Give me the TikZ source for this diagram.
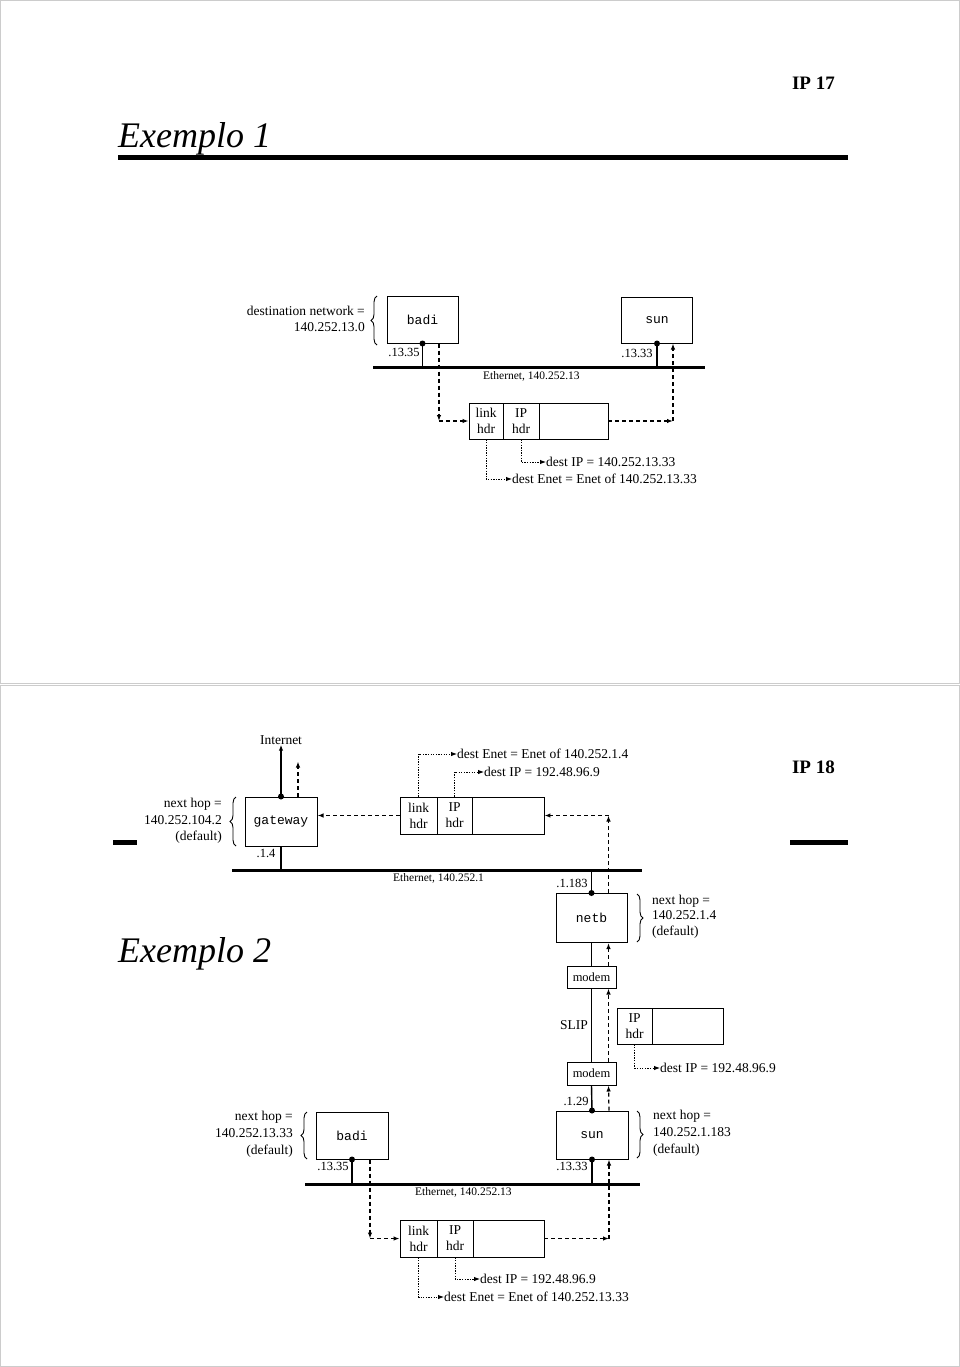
\documentclass[tikz,border=0pt]{standalone}
\usepackage{fontspec}
\setmainfont{Liberation Serif}
\setmonofont{Liberation Mono}
\usetikzlibrary{arrows.meta,decorations.pathreplacing,calc}
\tikzset{
  host/.style={draw, line width=1pt, inner sep=0pt, minimum width=71pt, minimum height=47pt, font=\ttfamily\fontsize{13}{15}\selectfont},
  modembox/.style={draw, line width=1pt, inner sep=0pt, minimum width=49pt, minimum height=22pt, font=\fontsize{12.5}{14}\selectfont},
  cell/.style={draw, line width=0.9pt, inner sep=0pt, minimum height=36pt, align=center, font=\fontsize{13.5}{16}\selectfont},
  lbl/.style={inner sep=0pt, font=\fontsize{13.5}{16}\selectfont},
  ethlbl/.style={inner sep=0pt, font=\fontsize{11.5}{13}\selectfont},
  addr/.style={inner sep=0pt, font=\fontsize{12.5}{14}\selectfont},
  eth/.style={line width=3pt},
  wire/.style={line width=1.4pt},
  dsh/.style={dash pattern=on 4pt off 3pt, line width=1.2pt},
  dtt/.style={dash pattern=on 1.3pt off 1.3pt, line width=0.9pt},
  tip/.style={-{Latex[length=6pt,width=4.5pt]}},
  dot/.style={fill=black},
  brc/.style={decorate, decoration={brace, amplitude=6pt}, line width=0.9pt},
  frame/.style={draw=black!20, line width=0.8pt},
  rule/.style={line width=5pt}
}
\begin{document}
\begin{tikzpicture}[x=1pt,y=-1pt]
\path[use as bounding box] (0,0) rectangle (960,1367);
% slide frames
\draw[frame] (0.5,0.5) rectangle (959.5,683);
\draw[frame] (0.5,685) rectangle (959.5,1366.5);

% ================= Slide 1 =================
\node[anchor=base east, inner sep=0pt, font=\bfseries\fontsize{19}{22}\selectfont] (ip17) at (835,90) {IP 17};
\node[anchor=base west, inner sep=0pt, font=\itshape\fontsize{36}{40}\selectfont] (ex1) at (118,148) {Exemplo 1};
\draw[rule] (118,158) -- (848,158);

\node[host] (badi1) at (422.5,319.5) {badi};
\node[host, minimum height=46pt] (sun1) at (657,320) {sun};
\draw[brc] (377,345) -- (377,296);
\node[lbl, align=right, anchor=east] (dn1) at (365,319) {destination network =\\140.252.13.0};

\coordinate (e1l) at (373,367);
\coordinate (e1r) at (705,367);
\draw[eth] (e1l) -- (e1r);
\node[ethlbl, anchor=west] (eth1) at (483,376) {Ethernet, 140.252.13};

\draw[wire] (badi1.south) -- (badi1.south |- e1l);
\fill[dot] (badi1.south) circle (3pt);
\draw[wire] (sun1.south) -- (sun1.south |- e1l);
\fill[dot] (sun1.south) circle (3pt);
\node[addr] (a1) at (404,352) {.13.35};
\node[addr] (a2) at (637,353) {.13.33};

\node[cell, minimum width=34pt] (f1a) at (486,421) {link\\hdr};
\node[cell, minimum width=36pt] (f1b) at (521,421) {IP\\hdr};
\node[cell, minimum width=69pt] (f1c) at (573.5,421) {};

\coordinate (b1d) at ($(badi1.south)+(16.5,0)$);
\coordinate (c1) at (b1d |- f1a.west);
\draw[dsh,tip] (b1d) -- (c1);
\draw[dsh,tip] (c1) -- (f1a.west);
\coordinate (s1d) at ($(sun1.south)+(16,0)$);
\coordinate (c2) at (s1d |- f1c.east);
\draw[dsh,tip] (f1c.east) -- (c2);
\draw[dsh,tip] (c2) -- (s1d);

\node[lbl, anchor=west] (dip1) at (546,462) {dest IP = 140.252.13.33};
\node[lbl, anchor=west] (den1) at (512,479) {dest Enet = Enet of 140.252.13.33};
\draw[dtt,tip] (f1b.south) |- (dip1.west);
\draw[dtt,tip] (f1a.south) |- (den1.west);

% ================= Slide 2 =================
\node[anchor=base east, inner sep=0pt, font=\bfseries\fontsize{19}{22}\selectfont] (ip18) at (835,773) {IP 18};
\node[anchor=base west, inner sep=0pt, font=\itshape\fontsize{36}{40}\selectfont] (ex2) at (118,962) {Exemplo 2};
\draw[rule] (113,842) -- (137,842);
\draw[rule] (790,842) -- (848,842);

% hosts
\node[host, minimum width=72pt, minimum height=49pt] (gw) at (281,821.5) {gateway};
\node[host, minimum height=49pt] (netb) at (591.5,918) {netb};
\node[modembox] (modemA) at (591.5,977) {modem};
\node[modembox, minimum height=23pt] (modemB) at (591.5,1073.5) {modem};
\node[host, minimum width=72pt, minimum height=48pt] (sun2) at (592,1135) {sun};
\node[host, minimum width=72pt] (badi2) at (352,1135.5) {badi};

\node[lbl] (inet) at (281,740) {Internet};

% braces and labels
\draw[brc] (236,846) -- (236,797);
\node[lbl, align=right, anchor=east, font=\fontsize{13.5}{16.5}\selectfont] (nh1) at (222,821) {next hop =\\140.252.104.2\\(default)};
\draw[brc] (637,894) -- (637,942);
\node[lbl, align=left, anchor=west, font=\fontsize{13.5}{15.5}\selectfont] (nh2) at (652,916.5) {next hop =\\140.252.1.4\\(default)};
\draw[brc] (637,1111) -- (637,1158);
\node[lbl, align=left, anchor=west, font=\fontsize{13.5}{17}\selectfont] (nh3) at (653,1133) {next hop =\\140.252.1.183\\(default)};
\draw[brc] (307,1159) -- (307,1112);
\node[lbl, align=right, anchor=east, font=\fontsize{13.5}{17}\selectfont] (nh4) at (293,1134) {next hop =\\140.252.13.33\\(default)};

% ethernets
\coordinate (e2l) at (232,870);
\coordinate (e2r) at (642,870);
\draw[eth] (e2l) -- (e2r);
\node[ethlbl, anchor=west] (eth2) at (393,878) {Ethernet, 140.252.1};
\coordinate (e3l) at (305,1184);
\coordinate (e3r) at (640,1184);
\draw[eth] (e3l) -- (e3r);
\node[ethlbl, anchor=west] (eth3) at (415,1192) {Ethernet, 140.252.13};

% addresses
\node[addr] (a3) at (266,853) {.1.4};
\node[addr] (a4) at (572,883) {.1.183};
\node[addr] (a5) at (576,1101) {.1.29};
\node[addr] (a6) at (572,1166) {.13.33};
\node[addr] (a7) at (333,1166) {.13.35};
\node[lbl] (slip) at (574,1025) {SLIP};

% solid links
\draw[wire,tip] (gw.north) -- (inet.south);
\fill[dot] (gw.north) circle (3pt);
\draw[wire] (gw.south) -- (gw.south |- e2l);
\draw[wire] (netb.north) -- (netb.north |- e2l);
\fill[dot] (netb.north) circle (3pt);
\draw[wire] (netb.south) -- (modemA.north);
\draw[wire] (modemA.south) -- (modemB.north);
\draw[wire] (modemB.south) -- (sun2.north);
\fill[dot] (sun2.north) circle (3pt);
\draw[wire] (sun2.south) -- (sun2.south |- e3l);
\fill[dot] (sun2.south) circle (3pt);
\draw[wire] (badi2.south) -- (badi2.south |- e3l);
\fill[dot] (badi2.south) circle (3pt);

% frames
\node[cell, minimum width=37pt, minimum height=37pt] (f2a) at (418.5,815.5) {link\\hdr};
\node[cell, minimum width=35pt, minimum height=37pt] (f2b) at (454.5,815.5) {IP\\hdr};
\node[cell, minimum width=72pt, minimum height=37pt] (f2c) at (508,815.5) {};
\node[cell, minimum width=35pt] (f4a) at (634.5,1026) {IP\\hdr};
\node[cell, minimum width=71pt] (f4c) at (687.5,1026) {};
\node[cell, minimum width=37pt, minimum height=37pt] (f3a) at (418.5,1238.5) {link\\hdr};
\node[cell, minimum width=36pt, minimum height=37pt] (f3b) at (455,1238.5) {IP\\hdr};
\node[cell, minimum width=71pt, minimum height=37pt] (f3c) at (508.5,1238.5) {};

% dashed packet path
\coordinate (gwd) at ($(gw.north)+(17,0)$);
\coordinate (gwu) at ($(gwd)+(0,-35)$);
\draw[dsh,tip] (gwd) -- (gwu);
\draw[dsh,tip] (f2a.west) -- (f2a.west -| gw.east);
\coordinate (nbu) at ($(netb.north)+(17,0)$);
\coordinate (c3) at (nbu |- f2c.east);
\draw[dsh,tip] (nbu) -- (c3);
\draw[dsh,tip] (c3) -- (f2c.east);
\draw[dsh,tip] ($(modemA.north)+(17,0)$) -- ($(netb.south)+(17,0)$);
\draw[dsh,tip] ($(modemB.north)+(17,0)$) -- ($(modemA.south)+(17,0)$);
\draw[dsh,tip] ($(sun2.north)+(17,0)$) -- ($(modemB.south)+(17,0)$);
\coordinate (b2d) at ($(badi2.south)+(18,0)$);
\coordinate (c4) at (b2d |- f3a.west);
\draw[dsh,tip] (b2d) -- (c4);
\draw[dsh,tip] (c4) -- (f3a.west);
\coordinate (s2d) at ($(sun2.south)+(17,0)$);
\coordinate (c5) at (s2d |- f3c.east);
\draw[dsh,tip] (f3c.east) -- (c5);
\draw[dsh,tip] (c5) -- (s2d);

% dotted field pointers
\node[lbl, anchor=west] (den2) at (457,754) {dest Enet = Enet of 140.252.1.4};
\node[lbl, anchor=west] (dip2) at (484,772) {dest IP = 192.48.96.9};
\node[lbl, anchor=west] (dip4) at (660,1068) {dest IP = 192.48.96.9};
\node[lbl, anchor=west] (dip3) at (480,1279) {dest IP = 192.48.96.9};
\node[lbl, anchor=west] (den3) at (444,1297) {dest Enet = Enet of 140.252.13.33};
\draw[dtt,tip] (f2a.north) |- (den2.west);
\draw[dtt,tip] (f2b.north) |- (dip2.west);
\draw[dtt,tip] (f4a.south) |- (dip4.west);
\draw[dtt,tip] (f3b.south) |- (dip3.west);
\draw[dtt,tip] (f3a.south) |- (den3.west);
\end{tikzpicture}
\end{document}
